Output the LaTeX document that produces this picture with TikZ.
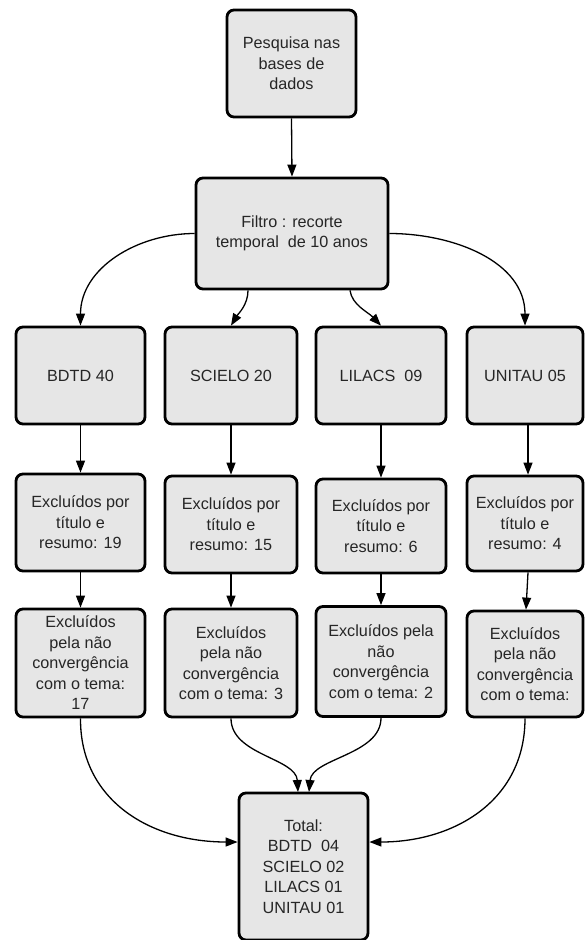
\documentclass[tikz,border=0pt]{standalone}
\usepackage{fontspec}
\setmainfont{Liberation Sans}
\usetikzlibrary{arrows.meta}
\definecolor{boxfill}{HTML}{E6E6E6}
\definecolor{txt}{HTML}{262626}
\begin{document}
\begin{tikzpicture}[x=1pt,y=-1pt,
  box/.style={draw=black, line width=2.8pt, rounded corners=7pt, fill=boxfill,
    text=txt, align=center, inner sep=0pt,
    font=\fontsize{16.2}{20.5}\selectfont},
  conn/.style={line width=1.3pt, -{Triangle[length=12pt,width=9pt]}}]
\useasboundingbox (0,0) rectangle (585,940);
% top
\node[box, minimum width=129pt, minimum height=107pt] (top) at (291.5,63.5) {Pesquisa nas\\bases de\\dados};
\node[box, minimum width=192pt, minimum height=111pt] (filtro) at (292,233.5) {Filtro : recorte\\temporal\ \ de 10 anos};
% row 1
\node[box, minimum width=129pt, minimum height=97pt] (b1) at (80.5,375.5) {BDTD 40};
\node[box, minimum width=132pt, minimum height=97pt] (s1) at (231,375.5) {SCIELO 20};
\node[box, minimum width=130pt, minimum height=97pt] (l1) at (381,375.5) {LILACS\ \ 09};
\node[box, minimum width=116pt, minimum height=97pt] (u1) at (525,375.5) {UNITAU 05};
% row 2
\node[box, minimum width=129pt, minimum height=97pt] (b2) at (80.5,522.5) {Excluídos por\\título e\\resumo: 19};
\node[box, minimum width=132pt, minimum height=97pt] (s2) at (231,524.5) {Excluídos por\\título e\\resumo: 15};
\node[box, minimum width=130pt, minimum height=94pt] (l2) at (381,526) {Excluídos por\\título e\\resumo: 6};
\node[box, minimum width=116pt, minimum height=95pt] (u2) at (525,523.5) {Excluídos por\\título e\\resumo: 4};
% row 3
\node[box, minimum width=129pt, minimum height=108pt] (b3) at (80.5,663) {Excluídos\\pela não\\convergência\\com o tema:\\17};
\node[box, minimum width=132pt, minimum height=108pt] (s3) at (231,663) {Excluídos\\pela não\\convergência\\com o tema: 3};
\node[box, minimum width=130pt, minimum height=110pt] (l3) at (381,661.5) {Excluídos pela\\não\\convergência\\com o tema: 2};
\node[box, minimum width=116pt, minimum height=106pt] (u3) at (525,664) {Excluídos\\pela não\\convergência\\com o tema:};
% total
\node[box, minimum width=129pt, minimum height=147pt] (tot) at (303.5,866.5) {Total:\\BDTD\ \ 04\\SCIELO 02\\LILACS 01\\UNITAU 01};
% connectors
\draw[conn] (top.south) -- (filtro.north);
\draw[conn] (filtro.west) to[out=180,in=90] (b1.north);
\draw[conn] (filtro.south -| 248,0) .. controls (248,305) and (238,314) .. (s1.north);
\draw[conn] (filtro.south -| 350,0) .. controls (352,305) and (368,312) .. (l1.north);
\draw[conn] (filtro.east) to[out=0,in=90] (u1.north);
\draw[conn] (b1.south) -- (b2.north);
\draw[conn] (s1.south) -- (s2.north);
\draw[conn] (l1.south) -- (l2.north);
\draw[conn] (u1.south -| 528,0) -- (u2.north -| 528,0);
\draw[conn] (b2.south) -- (b3.north);
\draw[conn] (s2.south) -- (s3.north);
\draw[conn] (l2.south) -- (l3.north);
\draw[conn] (u2.south -| 528,0) -- (u3.north -| 526,0);
\coordinate (tl) at (298,792);
\coordinate (tr) at (309,792);
\draw[conn] (b3.south) .. controls (80,800) and (150,842) .. (tot.west |- 0,842);
\draw[conn] (s3.south) .. controls (231,755) and (296,758) .. (tl);
\draw[conn] (l3.south) .. controls (381,755) and (312,758) .. (tr);
\draw[conn] (u3.south) .. controls (525,800) and (455,842) .. (tot.east |- 0,842);
\end{tikzpicture}
\end{document}
